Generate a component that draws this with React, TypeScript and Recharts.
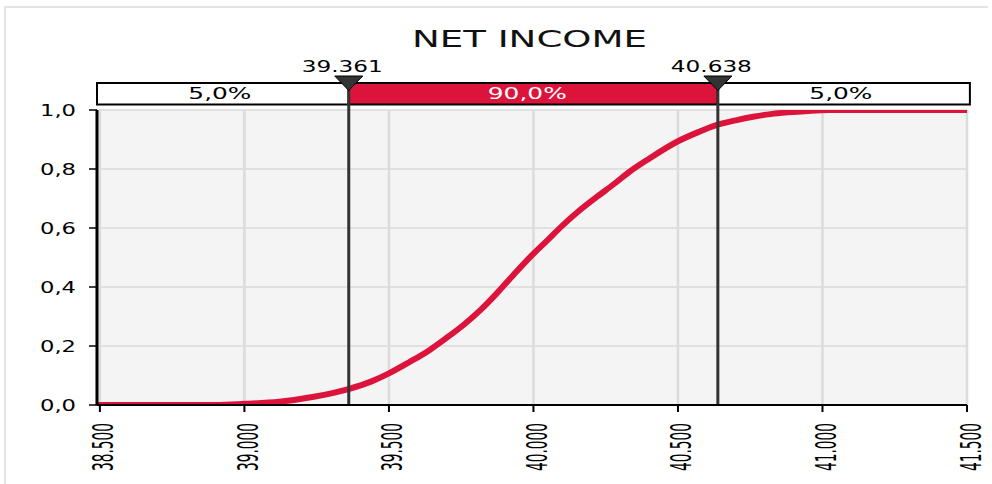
import {
  LineChart,
  Line,
  XAxis,
  YAxis,
  CartesianGrid,
  ReferenceArea,
  ReferenceLine,
  ReferenceDot,
} from "recharts";

// Значения (кумулятивная кривая)
const netIncome = [
  38.49, 38.9, 39.0, 39.12, 39.24, 39.36, 39.44, 39.5, 39.57, 39.64, 39.7,
  39.76, 39.82, 39.87, 39.93, 39.99, 40.05, 40.1, 40.16, 40.22, 40.28, 40.33,
  40.4, 40.5, 40.57, 40.63, 40.7, 40.76, 40.82, 40.88, 40.95, 41.02, 41.5,
];
const cumulative = [
  0, 0, 0.004, 0.011, 0.028, 0.054, 0.08, 0.107, 0.145, 0.186, 0.228, 0.273,
  0.325, 0.375, 0.44, 0.503, 0.56, 0.608, 0.66, 0.706, 0.75, 0.789, 0.835,
  0.894, 0.925, 0.948, 0.965, 0.977, 0.986, 0.992, 0.997, 1, 1,
];

const xTicks = [38.5, 39, 39.5, 40, 40.5, 41, 41.5];
const xTickLabels = ["38.500", "39.000", "39.500", "40.000", "40.500", "41.000", "41.500"];
const yTicks = [0, 0.2, 0.4, 0.6, 0.8, 1];
const yTickLabels = ["0,0", "0,2", "0,4", "0,6", "0,8", "1,0"];

const lowerValue = 39.361;
const upperValue = 40.638;
const markerLabels = ["39.361", "40.638"];
const bandLabels = ["5,0%", "90,0%", "5,0%"];

const X_MIN = 38.49;
const X_MAX = 41.5;
const BAND_BOTTOM = 1.0186;
const BAND_TOP = 1.0915;

const RED = "#DC143C";
const DARK = "#333333";
const FONT = "'DejaVu Sans', Verdana, sans-serif";

const data = netIncome.map((x, i) => ({ x, p: cumulative[i] }));

const XTick = (props: any) => {
  const { x, y, payload } = props;
  const i = xTicks.indexOf(payload.value);
  return (
    <text
      transform={`translate(${x + 13.5},${y}) rotate(-90) scale(1,1.45)`}
      x={-48}
      y={0}
      textAnchor="start"
      fontSize={20}
      fontFamily="'DejaVu Sans Condensed', 'DejaVu Sans', sans-serif"
      textLength={48}
      lengthAdjust="spacingAndGlyphs"
      fill="#000"
    >
      {xTickLabels[i]}
    </text>
  );
};

const YTick = (props: any) => {
  const { x, y, payload } = props;
  const i = yTicks.indexOf(payload.value);
  return (
    <text
      x={x - 36}
      y={y + 5.5}
      textAnchor="start"
      fontSize={16}
      fontFamily={FONT}
      textLength={36}
      lengthAdjust="spacingAndGlyphs"
      fill="#000"
    >
      {yTickLabels[i]}
    </text>
  );
};

const BandLabel = (props: any) => {
  const { viewBox, text, color, dx = 0, len } = props;
  if (!viewBox) return null;
  const cx = viewBox.x + viewBox.width / 2 + dx;
  const cy = viewBox.y + viewBox.height / 2;
  return (
    <text
      x={cx - len / 2}
      y={cy + 5.5}
      textAnchor="start"
      fontSize={15}
      fontFamily={FONT}
      textLength={len}
      lengthAdjust="spacingAndGlyphs"
      fill={color}
    >
      {text}
    </text>
  );
};

const Marker = (props: any) => {
  const { cx, cy, text } = props;
  return (
    <g>
      <polygon
        points={`${cx - 14},${cy - 7} ${cx + 14},${cy - 7} ${cx},${cy + 7.5}`}
        fill={DARK}
        stroke="#000"
        strokeWidth={1}
      />
      <text
        x={cx - 47}
        y={cy - 11}
        textAnchor="start"
        fontSize={16}
        fontFamily={FONT}
        textLength={81}
        lengthAdjust="spacingAndGlyphs"
        fill="#000"
      >
        {text}
      </text>
    </g>
  );
};

export default function App() {
  return (
    <div
      style={{
        position: "absolute",
        left: 0,
        top: 0,
        width: 992,
        height: 484,
        background: "#fff",
        overflow: "hidden",
      }}
    >
      <div
        style={{
          position: "absolute",
          left: 4,
          top: 6,
          width: 982,
          height: 478,
          borderTop: "2px solid #e4e4e4",
          borderLeft: "2px solid #e4e4e4",
        }}
      />
      <div style={{ position: "absolute", left: 0, top: 0 }}>
        <LineChart
          width={992}
          height={484}
          data={data}
          margin={{ top: 110, right: 25, bottom: 0, left: 0 }}
        >
          <CartesianGrid
            vertical={false}
            stroke="#dadada"
            strokeWidth={1.3}
            fill="#f4f4f4"
          />
          <CartesianGrid horizontal={false} stroke="#dcdcdc" strokeWidth={2.6} />
          <XAxis
            dataKey="x"
            type="number"
            domain={[X_MIN, X_MAX]}
            ticks={xTicks}
            allowDataOverflow
            height={79}
            tickSize={7}
            tickMargin={11}
            tick={<XTick />}
            axisLine={{ stroke: "#000", strokeWidth: 2 }}
            tickLine={{ stroke: "#000", strokeWidth: 2 }}
          />
          <YAxis
            type="number"
            domain={[0, 1]}
            ticks={yTicks}
            allowDataOverflow
            width={97}
            tickSize={8}
            tickMargin={13}
            tick={<YTick />}
            axisLine={{ stroke: "#000", strokeWidth: 3 }}
            tickLine={{ stroke: "#000", strokeWidth: 1.5 }}
          />
          <Line
            dataKey="p"
            type="monotone"
            stroke={RED}
            strokeWidth={6}
            dot={false}
            activeDot={false}
            isAnimationActive={false}
          />
          <ReferenceArea
            x1={X_MIN}
            x2={lowerValue}
            y1={BAND_BOTTOM}
            y2={BAND_TOP}
            ifOverflow="visible"
            fill="#fff"
            fillOpacity={1}
            stroke="#000"
            strokeWidth={2}
            label={<BandLabel text={bandLabels[0]} color="#000" dx={-3} len={63} />}
          />
          <ReferenceArea
            x1={lowerValue}
            x2={upperValue}
            y1={BAND_BOTTOM}
            y2={BAND_TOP}
            ifOverflow="visible"
            fill={RED}
            fillOpacity={1}
            stroke="#000"
            strokeWidth={2}
            label={<BandLabel text={bandLabels[1]} color="#fff" dx={-6} len={79} />}
          />
          <ReferenceArea
            x1={upperValue}
            x2={41.51}
            y1={BAND_BOTTOM}
            y2={BAND_TOP}
            ifOverflow="visible"
            fill="#fff"
            fillOpacity={1}
            stroke="#000"
            strokeWidth={2}
            label={<BandLabel text={bandLabels[2]} color="#000" dx={-3} len={63} />}
          />
          <ReferenceLine
            segment={[
              { x: lowerValue, y: 0 },
              { x: lowerValue, y: BAND_TOP },
            ]}
            ifOverflow="visible"
            stroke={DARK}
            strokeWidth={3}
          />
          <ReferenceLine
            segment={[
              { x: upperValue, y: 0 },
              { x: upperValue, y: BAND_TOP },
            ]}
            ifOverflow="visible"
            stroke={DARK}
            strokeWidth={3}
          />
          <ReferenceDot
            x={lowerValue}
            y={BAND_TOP}
            ifOverflow="visible"
            shape={(p: any) => <Marker {...p} text={markerLabels[0]} />}
          />
          <ReferenceDot
            x={upperValue}
            y={BAND_TOP}
            ifOverflow="visible"
            shape={(p: any) => <Marker {...p} text={markerLabels[1]} />}
          />
        </LineChart>
      </div>
      <svg
        width={992}
        height={484}
        style={{ position: "absolute", left: 0, top: 0, pointerEvents: "none" }}
      >
        <text
          x={412}
          y={46.5}
          textAnchor="start"
          fontSize={23}
          fontFamily={FONT}
          textLength={235}
          lengthAdjust="spacingAndGlyphs"
          fill="#111"
        >
          NET INCOME
        </text>
      </svg>
    </div>
  );
}
